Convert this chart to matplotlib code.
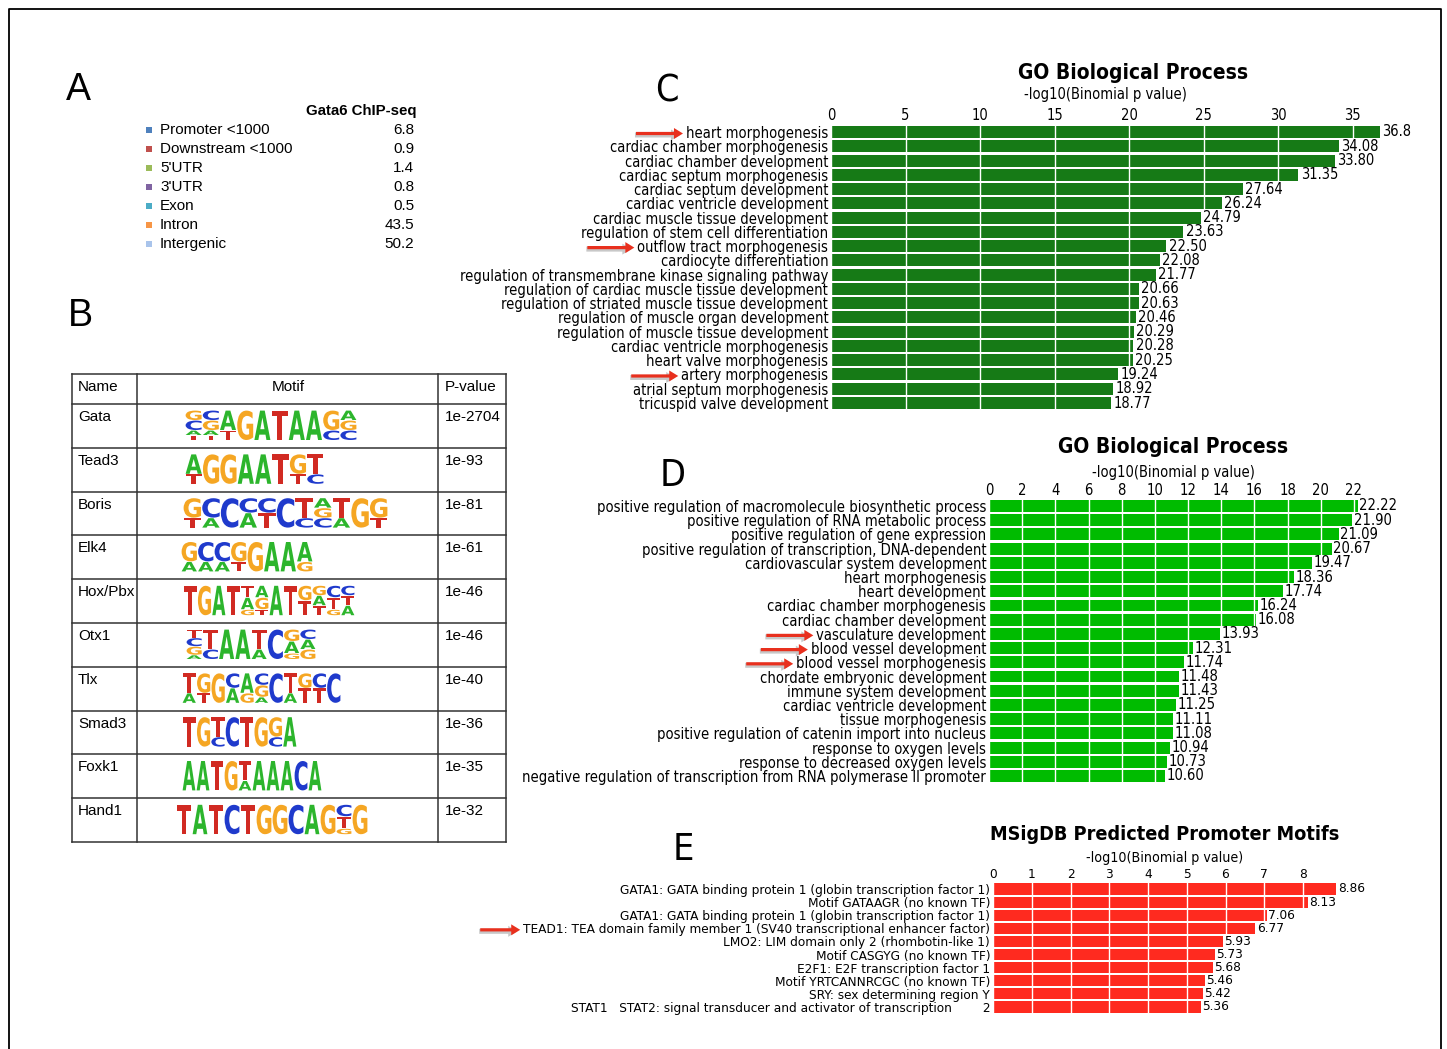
import matplotlib
matplotlib.use('Agg')
import matplotlib.pyplot as plt
from matplotlib.patches import Rectangle, PathPatch, FancyArrow
from matplotlib.textpath import TextPath
from matplotlib.font_manager import FontProperties
from matplotlib.transforms import Affine2D

W, H = 1447, 1049

# ---- panel A: genomic distribution of peaks
region_names = ['Promoter <1000', 'Downstream <1000', "5'UTR", "3'UTR", 'Exon', 'Intron', 'Intergenic']
region_pct = ['6.8', '0.9', '1.4', '0.8', '0.5', '43.5', '50.2']
region_colors = ['#4f81bd', '#c0504d', '#9bbb59', '#8064a2', '#4bacc6', '#f79646', '#a9c4eb']

# ---- panel B: known motifs (letters per column, top to bottom; lowercase = minor letter)
motif_names = ['Gata', 'Tead3', 'Boris', 'Elk4', 'Hox/Pbx', 'Otx1', 'Tlx', 'Smad3', 'Foxk1', 'Hand1']
motif_pvalues = ['1e-2704', '1e-93', '1e-81', '1e-61', '1e-46', '1e-46', '1e-40', '1e-36', '1e-35', '1e-32']
motif_logos = [
    ['GCat', 'CGat', 'At', 'G', 'A', 'T', 'A', 'A', 'Gc', 'AGC'],
    ['At', 'G', 'G', 'A', 'A', 'T', 'Gt', 'Tc'],
    ['Gt', 'Ca', 'C', 'CA', 'CT', 'C', 'Tc', 'AGC', 'Ta', 'G', 'Gt'],
    ['Ga', 'Ca', 'Ca', 'Gt', 'G', 'A', 'A', 'Ag'],
    ['T', 'G', 'A', 'T', 'TAg', 'AGt', 'A', 'T', 'GT', 'GAT', 'CTg', 'CTA'],
    ['TCGa', 'Tc', 'A', 'A', 'Ta', 'C', 'GAg', 'CAG'],
    ['Ta', 'Gt', 'G', 'CA', 'Ag', 'CGa', 'C', 'Ta', 'GT', 'CT', 'C'],
    ['T', 'G', 'Tc', 'C', 'T', 'G', 'Gc', 'A'],
    ['A', 'A', 'T', 'G', 'Ta', 'A', 'A', 'A', 'C', 'A'],
    ['T', 'A', 'T', 'C', 'T', 'G', 'G', 'C', 'A', 'G', 'CTg', 'G'],
]
logo_span = [(185, 357), (185, 324), (183, 388), (181, 313), (183, 355),
             (186, 316), (182, 341), (182, 297), (182, 322), (176, 368)]

# ---- panel C
go_c_terms = ['heart morphogenesis', 'cardiac chamber morphogenesis', 'cardiac chamber development',
              'cardiac septum morphogenesis', 'cardiac septum development', 'cardiac ventricle development',
              'cardiac muscle tissue development', 'regulation of stem cell differentiation',
              'outflow tract morphogenesis', 'cardiocyte differentiation',
              'regulation of transmembrane kinase signaling pathway',
              'regulation of cardiac muscle tissue development',
              'regulation of striated muscle tissue development', 'regulation of muscle organ development',
              'regulation of muscle tissue development', 'cardiac ventricle morphogenesis',
              'heart valve morphogenesis', 'artery morphogenesis', 'atrial septum morphogenesis',
              'tricuspid valve development']
go_c_values = ['36.8', '34.08', '33.80', '31.35', '27.64', '26.24', '24.79', '23.63', '22.50', '22.08',
               '21.77', '20.66', '20.63', '20.46', '20.29', '20.28', '20.25', '19.24', '18.92', '18.77']
go_c_marked = [0, 8, 17]

# ---- panel D
go_d_terms = ['positive regulation of macromolecule biosynthetic process',
              'positive regulation of RNA metabolic process', 'positive regulation of gene expression',
              'positive regulation of transcription, DNA-dependent', 'cardiovascular system development',
              'heart morphogenesis', 'heart development', 'cardiac chamber morphogenesis',
              'cardiac chamber development', 'vasculature development', 'blood vessel development',
              'blood vessel morphogenesis', 'chordate embryonic development', 'immune system development',
              'cardiac ventricle development', 'tissue morphogenesis',
              'positive regulation of catenin import into nucleus', 'response to oxygen levels',
              'response to decreased oxygen levels',
              'negative regulation of transcription from RNA polymerase II promoter']
go_d_values = ['22.22', '21.90', '21.09', '20.67', '19.47', '18.36', '17.74', '16.24', '16.08', '13.93',
               '12.31', '11.74', '11.48', '11.43', '11.25', '11.11', '11.08', '10.94', '10.73', '10.60']
go_d_marked = [9, 10, 11]

# ---- panel E
msig_terms = ['GATA1: GATA binding protein 1 (globin transcription factor 1)',
              'Motif GATAAGR (no known TF)',
              'GATA1: GATA binding protein 1 (globin transcription factor 1)',
              'TEAD1: TEA domain family member 1 (SV40 transcriptional enhancer factor)',
              'LMO2: LIM domain only 2 (rhombotin-like 1)',
              'Motif CASGYG (no known TF)',
              'E2F1: E2F transcription factor 1',
              'Motif YRTCANNRCGC (no known TF)',
              'SRY: sex determining region Y',
              'STAT1   STAT2: signal transducer and activator of transcription        2']
msig_values = ['8.86', '8.13', '7.06', '6.77', '5.93', '5.73', '5.68', '5.46', '5.42', '5.36']
msig_marked = [3]

plt.rcParams['font.family'] = 'DejaVu Sans'
plt.rcParams['font.stretch'] = 'condensed'

SANS = dict(family='Liberation Sans', stretch='normal')
LOGO_COLORS = {'A': '#2cb52c', 'C': '#1f3acc', 'G': '#f5a623', 'T': '#d12a22'}
logo_font = FontProperties(family='DejaVu Sans', weight='bold', stretch='normal')

fig = plt.figure(figsize=(W / 100, H / 100), dpi=100)
canvas = fig.add_axes([0, 0, 1, 1])
canvas.set_xlim(0, W)
canvas.set_ylim(H, 0)
canvas.axis('off')

# frame
canvas.plot([9, 9, 1441, 1441], [H, 9, 9, H], color='black', lw=1.3)

# panel letters
for letter, x, y in [('A', 78, 90), ('B', 80, 316)]:
    canvas.text(x, y, letter, fontsize=27, ha='center', va='center', **SANS)
for letter, x, y in [('C', 667, 92), ('D', 673, 476), ('E', 683, 850)]:
    canvas.text(x, y, letter, fontsize=27, ha='center', va='center')

# ---- A
canvas.text(416, 111, 'Gata6 ChIP-seq', fontsize=10.8, fontweight='bold', ha='right', va='center', **SANS)
for i, (name, pct, col) in enumerate(zip(region_names, region_pct, region_colors)):
    y = 130 + 19 * i
    canvas.add_patch(Rectangle((146, y - 3), 6, 6, color=col, lw=0))
    canvas.text(160, y, name, fontsize=11, va='center', ha='left', **SANS)
    canvas.text(414, y, pct, fontsize=11, va='center', ha='right', **SANS)

# ---- B table
col_x = [72, 137, 438, 506]
row_y = [374, 404] + [404 + 43.8 * (k + 1) for k in range(10)]
for x in col_x:
    canvas.plot([x, x], [row_y[0], row_y[-1]], color='#333333', lw=1.1)
for y in row_y:
    canvas.plot([col_x[0], col_x[-1]], [y, y], color='#333333', lw=1.1)
canvas.text(78, 387, 'Name', fontsize=11, va='center', ha='left', **SANS)
canvas.text(288, 387, 'Motif', fontsize=11, va='center', ha='center', **SANS)
canvas.text(445, 387, 'P-value', fontsize=11, va='center', ha='left', **SANS)


def draw_letter(ch, x, ybot, w, h):
    tp = TextPath((0, 0), ch, size=1, prop=logo_font)
    bb = tp.get_extents()
    tr = Affine2D().translate(-bb.x0, -bb.y0).scale(w / bb.width, -h / bb.height).translate(x, ybot)
    canvas.add_patch(PathPatch(tr.transform_path(tp), color=LOGO_COLORS[ch], lw=0))


def draw_logo(columns, x0, x1, ybot, full=30.0):
    cw = (x1 - x0) / len(columns)
    for k, col in enumerate(columns):
        wts = [2 if c.isupper() else 1 for c in col]
        tot = sum(wts)
        y = ybot
        for c, wgt in zip(col[::-1], wts[::-1]):
            h = full * wgt / tot
            draw_letter(c.upper(), x0 + k * cw + 0.6, y, cw - 1.2, h - 0.6)
            y -= h


for r, (name, pv, logo, span) in enumerate(zip(motif_names, motif_pvalues, motif_logos, logo_span)):
    top = row_y[r + 1]
    canvas.text(78, top + 13, name, fontsize=11, va='center', ha='left', **SANS)
    canvas.text(445, top + 13, pv, fontsize=11, va='center', ha='left', **SANS)
    draw_logo(logo, span[0], span[1], top + 36)


# ---- bar panels
def bar_panel(x0, unit, xmax, yc0, yc1, terms, values, color, ticks, fs):
    n = len(terms)
    sp = (yc1 - yc0) / (n - 1)
    top, bot = yc0 - sp / 2, yc1 + sp / 2
    ax = fig.add_axes([x0 / W, 1 - bot / H, unit * xmax / W, (bot - top) / H])
    ax.patch.set_visible(False)
    vals = [float(v) for v in values]
    ax.barh(range(n), vals, height=0.84, color=color, zorder=1)
    ax.set_xlim(0, xmax)
    ax.set_ylim(n - 0.5, -0.5)
    ax.xaxis.tick_top()
    ax.set_xticks(ticks)
    ax.set_xticklabels([str(t) for t in ticks], fontsize=fs)
    ax.set_yticks(range(n))
    ax.set_yticklabels(terms, fontsize=fs)
    ax.tick_params(length=0, pad=1)
    ax.tick_params(axis='y', pad=2)
    ax.grid(axis='x', color='white', lw=1)
    ax.set_axisbelow(False)
    for s in ax.spines.values():
        s.set_visible(False)
    for i, (v, t) in enumerate(zip(vals, values)):
        ax.text(v + xmax * 0.004, i, t, va='center', ha='left', fontsize=fs)
    return ax


ax_c = bar_panel(831, 14.91, 37.5, 132, 403, go_c_terms, go_c_values, '#167a16', list(range(0, 40, 5)), 10.5)
ax_d = bar_panel(989, 16.59, 22.6, 506, 776, go_d_terms, go_d_values, '#00bb00', list(range(0, 24, 2)), 10.6)
ax_e = bar_panel(993, 38.75, 8.95, 889, 1007, msig_terms, msig_values, '#ff2a1f', list(range(0, 9)), 9.7)

# titles
sub = '-log10(Binomial p value)'
canvas.text(1133, 73, 'GO Biological Process', fontsize=15, fontweight='bold', ha='center', va='center')
canvas.text(1105, 95, sub, fontsize=10.5, ha='center', va='center')
canvas.text(1173, 447, 'GO Biological Process', fontsize=15, fontweight='bold', ha='center', va='center')
canvas.text(1173, 472, sub, fontsize=10.5, ha='center', va='center')
canvas.text(1165, 834, 'MSigDB Predicted Promoter Motifs', fontsize=14.2, fontweight='bold', ha='center', va='center')
canvas.text(1165, 858, sub, fontsize=10.2, ha='center', va='center')

# red arrows pointing at highlighted terms
fig.canvas.draw()
inv = canvas.transData.inverted()
for ax, marked, length in [(ax_c, go_c_marked, 47), (ax_d, go_d_marked, 47), (ax_e, msig_marked, 40)]:
    labels = ax.get_yticklabels()
    for i in marked:
        bb = labels[i].get_window_extent()
        x_end, y_mid = inv.transform((bb.x0, (bb.y0 + bb.y1) / 2))
        x_end -= 3
        canvas.add_patch(FancyArrow(x_end - length - 1, y_mid + 1.5, length - 2, 0, width=5, head_width=11,
                                    head_length=9, length_includes_head=True, color='#c8c8c8', lw=0))
        canvas.add_patch(FancyArrow(x_end - length, y_mid, length, 0, width=3.2, head_width=11,
                                    head_length=9, length_includes_head=True, color='#e8301e', lw=0))

fig.savefig('out.png', dpi=100)
